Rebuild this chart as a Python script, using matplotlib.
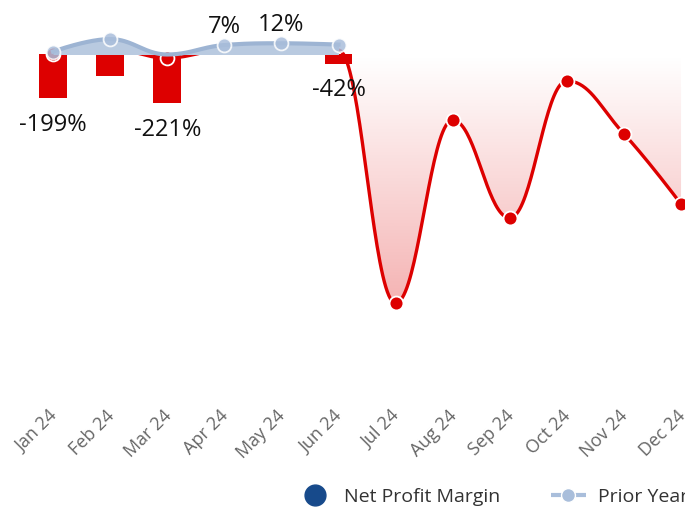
import numpy as np
import matplotlib
matplotlib.use('Agg')
import matplotlib.pyplot as plt
import matplotlib.transforms as mtrans
from matplotlib.lines import Line2D

# chart data
months = ['Jan 24', 'Feb 24', 'Mar 24', 'Apr 24', 'May 24', 'Jun 24',
          'Jul 24', 'Aug 24', 'Sep 24', 'Oct 24', 'Nov 24', 'Dec 24']
net_margin = [-199, -100, -221, 7, 12, -42]          # bars, Jan-Jun
bar_labels = ['-199%', None, '-221%', '7%', '12%', '-42%']
prior_year = [13, 70, 0, 43, 51, 45]                  # Jan-Jun
trend = [0, 25, -16, 20, 20, 20, -1130, -298, -743, -120, -361, -680]
trend_marks = [0, 2, 6, 7, 8, 9, 10, 11]   # markers visible in the reference

RED = '#dd0000'
BLUE = '#174a8b'
PY_LINE = '#9db4d3'
PY_FILL = '#b9cae0'
PY_MARK = '#a9bedb'

plt.rcParams['font.family'] = ['Open Sans', 'DejaVu Sans']


def spline(y, smoothing=1.5, n=40):
    # bezier spline with clamped control points (no false extremes)
    y = np.asarray(y, dtype=float)
    x = np.arange(len(y), dtype=float)
    d = smoothing + 1
    left = [(x[0], y[0])]
    right = [(x[0], y[0])]
    for i in range(1, len(y) - 1):
        lx = (smoothing * x[i] + x[i - 1]) / d
        ly = (smoothing * y[i] + y[i - 1]) / d
        rx = (smoothing * x[i] + x[i + 1]) / d
        ry = (smoothing * y[i] + y[i + 1]) / d
        corr = (ry - ly) * (rx - x[i]) / (rx - lx) + y[i] - ry
        ly += corr
        ry += corr
        if ly > y[i - 1] and ly > y[i]:
            ly = max(y[i - 1], y[i]); ry = 2 * y[i] - ly
        elif ly < y[i - 1] and ly < y[i]:
            ly = min(y[i - 1], y[i]); ry = 2 * y[i] - ly
        if ry > y[i + 1] and ry > y[i]:
            ry = max(y[i + 1], y[i]); ly = 2 * y[i] - ry
        elif ry < y[i + 1] and ry < y[i]:
            ry = min(y[i + 1], y[i]); ly = 2 * y[i] - ry
        left.append((lx, ly))
        right.append((rx, ry))
    left.append((x[-1], y[-1]))
    right.append((x[-1], y[-1]))
    xs, ys = [], []
    t = np.linspace(0, 1, n)
    for i in range(len(y) - 1):
        p0 = np.array([x[i], y[i]]); p1 = np.array(right[i])
        p2 = np.array(left[i + 1]); p3 = np.array([x[i + 1], y[i + 1]])
        b = ((1 - t) ** 3)[:, None] * p0 + (3 * (1 - t) ** 2 * t)[:, None] * p1 \
            + (3 * (1 - t) * t ** 2)[:, None] * p2 + (t ** 3)[:, None] * p3
        xs.append(b[:, 0]); ys.append(b[:, 1])
    return np.concatenate(xs), np.concatenate(ys)


fig = plt.figure(figsize=(6.85, 5.11), dpi=100)
ax = fig.add_axes([24.5 / 685, 121 / 511, 685.1 / 685, 390 / 511])
ax.set_xlim(-0.5, 11.5)
ax.set_ylim(-1525, 247.7)

x = np.arange(len(months))

# red trend line with gradient fill down to zero
tx, ty = spline(trend)
poly = ax.fill_between(tx, ty, 0, color='none', lw=0, zorder=1)
grad = np.zeros((256, 1, 4))
grad[..., 0] = 221 / 255
grad[..., 3] = np.linspace(0.3, 0.0, 256)[:, None]
img = ax.imshow(grad, extent=[-0.5, 11.5, min(trend), 0], origin='lower',
                aspect='auto', zorder=1)
img.set_clip_path(poly.get_paths()[0], transform=ax.transData)
ax.plot(tx, ty, color=RED, lw=2.4, zorder=3, solid_capstyle='round')
ax.plot(x, trend, 'o', color=RED, ms=10, mec='white', mew=1.3, zorder=3,
        markevery=trend_marks)

# bars
bx = x[:len(net_margin)]
colors = [BLUE if v >= 0 else RED for v in net_margin]
ax.bar(bx, net_margin, width=0.49, color=colors, zorder=2)
for xi, v, lab in zip(bx, net_margin, bar_labels):
    if lab is None:
        continue
    off = 19 if v >= 0 else -19
    ax.annotate(lab, (xi, v), xytext=(0, off), textcoords='offset points',
                ha='center', va='center', fontsize=17, color='#111111', zorder=6)

# prior year
px, py = spline(prior_year)
ax.fill_between(px, py, 0, color=PY_FILL, lw=0, zorder=4)
ax.plot(px, py, color=PY_LINE, lw=3, zorder=5)
ax.plot(x[:len(prior_year)], prior_year, 'o', color=PY_MARK, ms=10, mec='white',
        mew=1.3, alpha=0.85, zorder=5, markevery=[0, 1, 3, 4, 5])

for s in ax.spines.values():
    s.set_visible(False)
ax.set_yticks([])
ax.set_xticks(x)
ax.set_xticklabels(months, rotation=45, ha='right', rotation_mode='anchor',
                   fontsize=13, color='#666666')
ax.tick_params(axis='x', length=0, pad=12)
shift = mtrans.ScaledTranslation(-5 / 100, 0, fig.dpi_scale_trans)
for lbl in ax.get_xticklabels():
    lbl.set_transform(lbl.get_transform() + shift)

handles = [Line2D([], [], marker='o', ls='none', color=BLUE, ms=15),
           Line2D([], [], marker='o', ls='--', color=PY_MARK, lw=3, ms=10,
                  mec='white', mew=1)]
fig.legend(handles, ['Net Profit Margin', 'Prior Year'], loc='center left',
           bbox_to_anchor=(280 / 685, 1 - 497 / 511), ncol=2, frameon=False,
           fontsize=14, labelcolor='#333333', columnspacing=2.6,
           handletextpad=0.6, handlelength=1.8)

fig.savefig('out.png', dpi=100)
